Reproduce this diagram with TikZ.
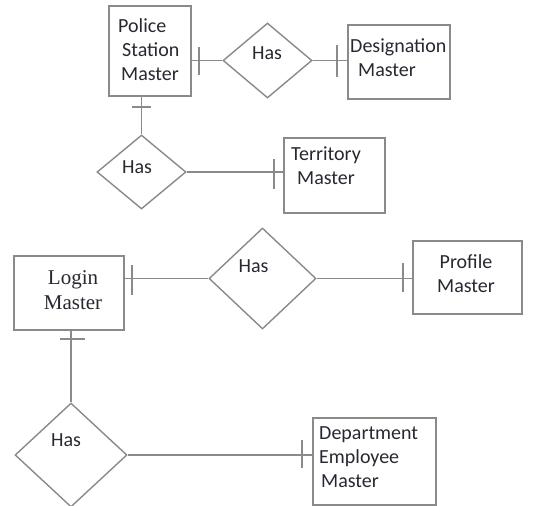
\documentclass[tikz,border=0pt]{standalone}
\usepackage{fontspec}
\setmainfont{Carlito}
\newfontfamily\serifer{Liberation Serif}
\usetikzlibrary{shapes.geometric}
\definecolor{linegray}{RGB}{138,138,138}
\definecolor{txt}{RGB}{40,40,50}
\tikzset{
  ent/.style={draw=linegray, line width=1.4pt, rectangle, inner sep=0pt, fill=white},
  rel/.style={draw=linegray, line width=1.4pt, diamond, inner sep=0pt, fill=white},
  lbl/.style={text=txt, inner sep=0pt, font=\fontsize{20}{24}\selectfont},
  slbl/.style={text=txt, inner sep=0pt, font=\serifer\fontsize{21}{25}\selectfont},
  conn/.style={draw=linegray, line width=1.4pt},
}
\begin{document}
\begin{tikzpicture}[x=1pt,y=-1pt]
\useasboundingbox[fill=white] (0,0) rectangle (536,506);
% entities
\node[ent, minimum width=82pt, minimum height=90pt] (police) at (150,51) {};
\node[ent, minimum width=102pt, minimum height=74pt] (desig) at (399,62) {};
\node[ent, minimum width=101pt, minimum height=75pt] (terr) at (334.5,175.5) {};
\node[ent, minimum width=110pt, minimum height=74pt] (login) at (69,293) {};
\node[ent, minimum width=109pt, minimum height=73pt] (prof) at (467.5,277.5) {};
\node[ent, minimum width=123pt, minimum height=87pt] (dept) at (374.5,461.5) {};
% relationships
\node[rel, minimum width=89pt, minimum height=75pt] (d1) at (267.5,60.5) {};
\node[rel, minimum width=89pt, minimum height=74pt] (d2) at (141.5,172) {};
\node[rel, minimum width=107pt, minimum height=101pt] (d3) at (262.5,278.5) {};
\node[rel, minimum width=112pt, minimum height=104pt] (d4) at (71,455) {};
% texts
\node[lbl, align=left, anchor=west] (tpolice) at (118,50) {Police\\\hspace*{4pt}Station\\\hspace*{3pt}Master};
\node[lbl, align=left, anchor=west] (tdesig) at (350,58) {Designation\\\hspace*{8pt}Master};
\node[lbl, align=center] (tterr) at (326,166) {Territory\\Master};
\node[slbl, align=center] (tlogin) at (73,290) {Login\\Master};
\node[lbl, align=center] (tprof) at (466,274) {Profile\\Master};
\node[lbl, align=left, anchor=west] (tdept) at (319,457) {\fontsize{20}{22.5}\selectfont Department\\Employee\\\hspace*{2pt}Master};
\node[lbl] (h1) at (267,53) {Has};
\node[lbl] (h2) at (137,167) {Has};
\node[lbl] (h3) at (253.5,266) {Has};
\node[lbl] (h4) at (66,440) {Has};
% connectors
\draw[conn] (d1.west -| police.east) -- (d1.west);
\draw[conn] (199,47) -- (199,75);
\draw[conn] (d1.east) -- (d1.east -| desig.west);
\draw[conn] (337,45) -- (337,77);
\draw[conn] (d2.north |- police.south) -- (d2.north);
\draw[conn] (132,107) -- (151,107);
\draw[conn] (d2.east) -- (d2.east -| terr.west);
\draw[conn] (274,159) -- (274,189);
\draw[conn] (d3.west -| login.east) -- (d3.west);
\draw[conn] (132,265) -- (132,295);
\draw[conn] (d3.east) -- (d3.east -| prof.west);
\draw[conn] (403,263) -- (403,292);
\draw[conn] (d4.north |- login.south) -- (d4.north);
\draw[conn] (60,339) -- (85,339);
\draw[conn] (d4.east) -- (d4.east -| dept.west);
\draw[conn] (302,440) -- (302,468);
\end{tikzpicture}
\end{document}
